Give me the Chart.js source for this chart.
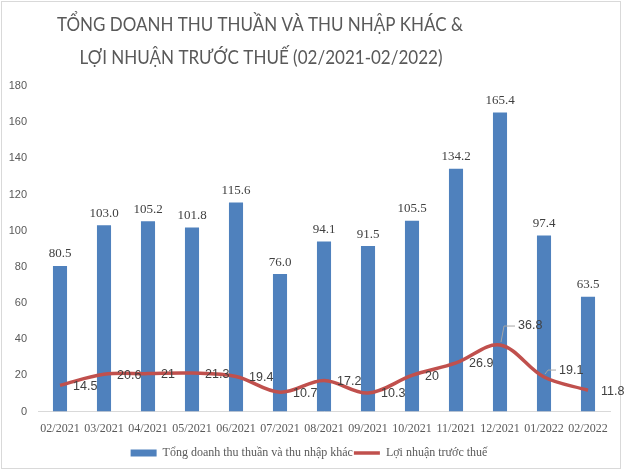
<!DOCTYPE html>
<html>
<head>
<meta charset="utf-8">
<script src="https://cdn.jsdelivr.net/npm/chart.js@4"></script>
<style>
  html, body { margin: 0; padding: 0; background: #fff; }
  #wrap { width: 624px; height: 471px; }
</style>
</head>
<body>
<div id="wrap"><canvas id="chart" width="624" height="471"></canvas></div>
<script>
const months = ["02/2021", "03/2021", "04/2021", "05/2021", "06/2021", "07/2021", "08/2021",
  "09/2021", "10/2021", "11/2021", "12/2021", "01/2022", "02/2022"];
const revenue = [80.5, 103.0, 105.2, 101.8, 115.6, 76.0, 94.1, 91.5, 105.5, 134.2, 165.4, 97.4, 63.5];
const profit = [14.5, 20.6, 21, 21.3, 19.4, 10.7, 17.2, 10.3, 20, 26.9, 36.8, 19.1, 11.8];
const yTicks = [0, 20, 40, 60, 80, 100, 120, 140, 160, 180];

const titleLines = ["TỔNG DOANH THU THUẦN VÀ THU NHẬP KHÁC &", "LỢI NHUẬN TRƯỚC THUẾ (02/2021-02/2022)"];
const revenueLabel = "Tổng doanh thu thuần và thu nhập khác";
const profitLabel = "Lợi nhuận trước thuế";

const ctx = document.getElementById("chart").getContext("2d");

// labels for bars (serif, above) and line (sans, right of point)
const valueLabels = {
  id: "valueLabels",
  afterDatasetsDraw(chart) {
    const c = chart.ctx;
    c.save();
    const barMeta = chart.getDatasetMeta(0);
    c.font = "13px 'Liberation Serif'";
    c.fillStyle = "#404040";
    c.textAlign = "center";
    c.textBaseline = "middle";
    barMeta.data.forEach((bar, i) => {
      c.fillText(revenue[i].toFixed(1), bar.x, bar.y - 12);
    });
    const lineMeta = chart.getDatasetMeta(1);
    c.font = "12.5px 'Liberation Sans'";
    c.textAlign = "left";
    lineMeta.data.forEach((pt, i) => {
      let dx = 13, dy = 1;
      if (i === 10) { dx = 18; dy = -19; }
      if (i === 11) { dx = 15; dy = -7; }
      if (i === 10 || i === 11) {
        c.strokeStyle = "#a6a6a6";
        c.lineWidth = 1;
        c.beginPath();
        c.moveTo(pt.x + 1, pt.y - 3);
        c.lineTo(pt.x + 4, pt.y + dy);
        c.lineTo(pt.x + dx - 3, pt.y + dy);
        c.stroke();
      }
      c.fillText(String(profit[i]), pt.x + dx, pt.y + dy);
    });
    c.restore();
  }
};

// white background, thin frame and the (off-centre) two-line title
const frame = {
  id: "frame",
  beforeDraw(chart) {
    const c = chart.ctx;
    c.save();
    c.fillStyle = "#fff";
    c.fillRect(0, 0, chart.width, chart.height);
    c.strokeStyle = "#d9d9d9";
    c.lineWidth = 1;
    c.strokeRect(1.5, 1.5, 619, 467);
    c.fillStyle = "#595959";
    c.font = "20px Lato";
    c.textAlign = "center";
    c.textBaseline = "middle";
    c.fillText(titleLines[0], 260, 25, 406);
    c.fillText(titleLines[1], 261, 58, 363);
    c.restore();
  }
};

new Chart(ctx, {
  type: "bar",
  data: {
    labels: months,
    datasets: [
      {
        type: "bar",
        label: revenueLabel,
        data: revenue,
        backgroundColor: "#4f81bd",
        borderWidth: 0,
        barPercentage: 0.32,
        categoryPercentage: 1,
        order: 1,
      },
      {
        type: "line",
        label: profitLabel,
        data: profit,
        borderColor: "#c0504d",
        backgroundColor: "#c0504d",
        borderWidth: 3.5,
        pointRadius: 0,
        tension: 0.35,
        order: 0,
      },
    ],
  },
  options: {
    responsive: false,
    animation: false,
    layout: { padding: { left: 8, right: 14, top: 86, bottom: 2 } },
    plugins: {
      tooltip: { enabled: false },
      title: { display: false },
      legend: {
        position: "bottom",
        labels: {
          color: "#595959",
          font: { family: "'Liberation Serif'", size: 12 },
          usePointStyle: true,
          pointStyleWidth: 26,
          boxHeight: 7,
          padding: 1,
          generateLabels(chart) {
            const items = Chart.defaults.plugins.legend.labels.generateLabels(chart);
            items.sort((a, b) => a.datasetIndex - b.datasetIndex);
            items.forEach((it) => {
              if (it.datasetIndex === 0) {
                it.pointStyle = "rect";
                it.lineWidth = 0;
              } else {
                it.pointStyle = "line";
                it.lineWidth = 3.5;
                it.strokeStyle = "#c0504d";
              }
            });
            return items;
          },
        },
      },
    },
    scales: {
      x: {
        grid: { display: false, drawTicks: false },
        border: { color: "#d9d9d9" },
        ticks: {
          color: "#595959",
          font: { family: "'Liberation Serif'", size: 12 },
          maxRotation: 0,
          autoSkip: false,
          padding: 10,
        },
      },
      y: {
        min: 0,
        max: 180,
        afterBuildTicks(scale) {
          scale.ticks = yTicks.map((v) => ({ value: v }));
        },
        grid: { display: false, drawTicks: false },
        border: { display: false },
        ticks: {
          color: "#595959",
          font: { family: "'Liberation Sans'", size: 11 },
          padding: 11,
        },
        afterFit(scale) {
          scale.width = 30;
        },
      },
    },
  },
  plugins: [frame, valueLabels],
});
</script>
</body>
</html>
